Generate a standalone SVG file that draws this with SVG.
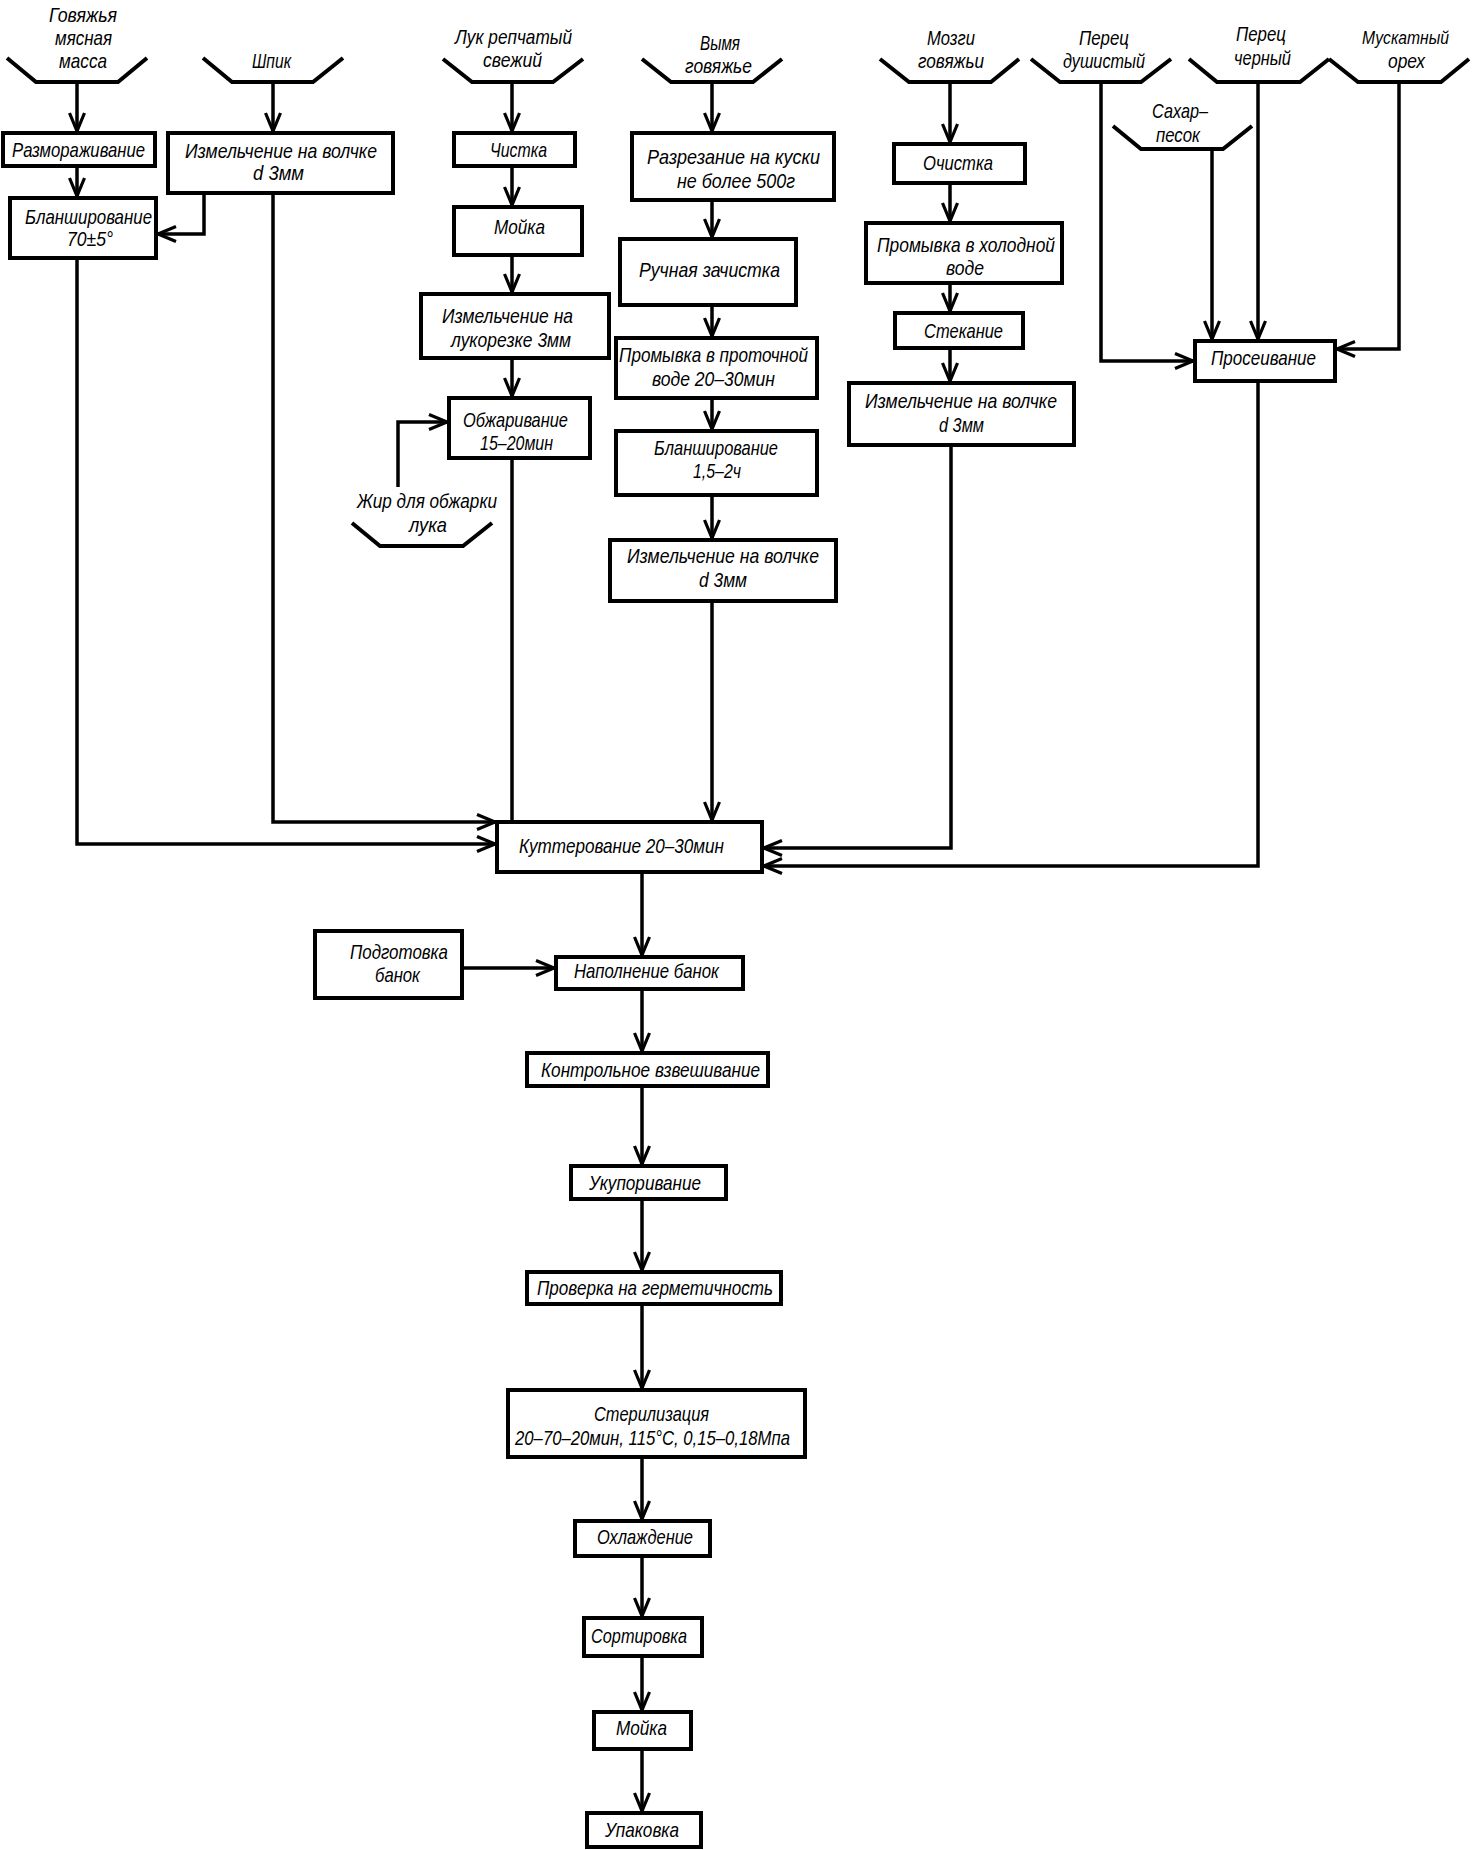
<svg xmlns="http://www.w3.org/2000/svg" width="1472" height="1850" viewBox="0 0 1472 1850">
<style>
.box{fill:#fff;stroke:#000;stroke-width:4}
.hop{fill:none;stroke:#000;stroke-width:4;stroke-linejoin:miter}
.ln{fill:none;stroke:#000;stroke-width:3.5;marker-end:url(#arr)}
.pl{fill:none;stroke:#000;stroke-width:3.5}
text{font-family:"Liberation Sans",Arial,sans-serif;font-style:italic;font-size:21px;fill:#000}
.sm{font-size:19px}
</style>
<defs>
<marker id="arr" markerUnits="userSpaceOnUse" markerWidth="30" markerHeight="30" viewBox="-25 -15 30 30" refX="0" refY="0" orient="auto" overflow="visible">
<path d="M-18,-7.5 L0,0 L-18,7.5" fill="none" stroke="#000" stroke-width="3.2"/>
</marker>
</defs>
<rect width="1472" height="1850" fill="#fff"/>

<g id="connectors">
<path class="ln" d="M77,82 V131"/>
<path class="ln" d="M77,166 V196"/>
<path class="ln" d="M273,82 V131"/>
<path class="ln" d="M204,193 V234 H158"/>
<path class="ln" d="M77,258 V844 H495"/>
<path class="ln" d="M273,193 V822 H495"/>
<path class="ln" d="M512,82 V131"/>
<path class="ln" d="M512,166 V205"/>
<path class="ln" d="M512,255 V292"/>
<path class="ln" d="M512,358 V396"/>
<path class="ln" d="M398,487 V422 H447"/>
<path class="pl" d="M512,458 V822"/>
<path class="ln" d="M712,82 V131"/>
<path class="ln" d="M712,200 V237"/>
<path class="ln" d="M712,305 V336"/>
<path class="ln" d="M712,398 V429"/>
<path class="ln" d="M712,495 V538"/>
<path class="ln" d="M712,601 V820"/>
<path class="ln" d="M950,82 V142"/>
<path class="ln" d="M950,183 V221"/>
<path class="ln" d="M950,283 V311"/>
<path class="ln" d="M950,348 V381"/>
<path class="ln" d="M951,445 V848 H764"/>
<path class="ln" d="M1101,82 V361 H1193"/>
<path class="ln" d="M1212,149 V339"/>
<path class="ln" d="M1258,82 V339"/>
<path class="ln" d="M1399,82 V349 H1337"/>
<path class="ln" d="M1258,381 V866 H764"/>
<path class="ln" d="M642,872 V955"/>
<path class="ln" d="M462,968 H554"/>
<path class="ln" d="M642,989 V1051"/>
<path class="ln" d="M642,1086 V1164"/>
<path class="ln" d="M642,1199 V1270"/>
<path class="ln" d="M642,1304 V1388"/>
<path class="ln" d="M642,1457 V1519"/>
<path class="ln" d="M642,1556 V1616"/>
<path class="ln" d="M642,1656 V1710"/>
<path class="ln" d="M642,1749 V1811"/>
</g>

<g id="in-govyazhya">
<polyline class="hop" points="7,58 36,82 118,82 147,58"/>
<text x="49" y="22" textLength="68" lengthAdjust="spacingAndGlyphs">Говяжья</text>
<text x="55" y="45" textLength="57" lengthAdjust="spacingAndGlyphs">мясная</text>
<text x="59" y="68" textLength="48" lengthAdjust="spacingAndGlyphs">масса</text>
</g>
<g id="in-shpik">
<polyline class="hop" points="203,58 232,82 313,82 343,58"/>
<text x="252" y="68" textLength="39" lengthAdjust="spacingAndGlyphs">Шпик</text>
</g>
<g id="in-luk">
<polyline class="hop" points="443,59 472,82 553,82 583,59"/>
<text x="455" y="44" textLength="117" lengthAdjust="spacingAndGlyphs">Лук репчатый</text>
<text x="483" y="67" textLength="59" lengthAdjust="spacingAndGlyphs">свежий</text>
</g>
<g id="in-vymya">
<polyline class="hop" points="642,59 671,82 753,82 782,59"/>
<text x="700" y="50" textLength="40" lengthAdjust="spacingAndGlyphs">Вымя</text>
<text x="685" y="73" textLength="67" lengthAdjust="spacingAndGlyphs">говяжье</text>
</g>
<g id="in-mozgi">
<polyline class="hop" points="880,59 909,82 991,82 1019,59"/>
<text x="927" y="45" textLength="48" lengthAdjust="spacingAndGlyphs">Мозги</text>
<text x="918" y="68" textLength="66" lengthAdjust="spacingAndGlyphs">говяжьи</text>
</g>
<g id="in-perec-dush">
<polyline class="hop" points="1031,59 1060,82 1141,82 1171,59"/>
<text x="1079" y="45" textLength="50" lengthAdjust="spacingAndGlyphs">Перец</text>
<text x="1063" y="68" textLength="82" lengthAdjust="spacingAndGlyphs">душистый</text>
</g>
<g id="in-perec-cher">
<polyline class="hop" points="1189,59 1217,82 1300,82 1329,59"/>
<text x="1236" y="41" textLength="50" lengthAdjust="spacingAndGlyphs">Перец</text>
<text x="1234" y="65" textLength="57" lengthAdjust="spacingAndGlyphs">черный</text>
</g>
<g id="in-muskat">
<polyline class="hop" points="1329,59 1358,82 1441,82 1469,59"/>
<text class="sm" x="1362" y="44" textLength="87" lengthAdjust="spacingAndGlyphs">Мускатный</text>
<text x="1388" y="68" textLength="37" lengthAdjust="spacingAndGlyphs">орех</text>
</g>
<g id="in-sahar">
<polyline class="hop" points="1113,126 1141,149 1223,149 1252,126"/>
<text x="1152" y="118" textLength="56" lengthAdjust="spacingAndGlyphs">Сахар–</text>
<text x="1156" y="142" textLength="44" lengthAdjust="spacingAndGlyphs">песок</text>
</g>
<g id="in-zhir">
<polyline class="hop" points="352,523 380,546 463,546 492,523"/>
<text x="357" y="508" textLength="140" lengthAdjust="spacingAndGlyphs">Жир для обжарки</text>
<text x="409" y="532" textLength="38" lengthAdjust="spacingAndGlyphs">лука</text>
</g>

<g id="razmorazhivanie">
<rect class="box" x="3" y="133" width="152" height="33"/>
<text x="12" y="157" textLength="133" lengthAdjust="spacingAndGlyphs">Размораживание</text>
</g>
<g id="izmelch-shpik">
<rect class="box" x="168" y="133" width="225" height="60"/>
<text x="185" y="158" textLength="192" lengthAdjust="spacingAndGlyphs">Измельчение на волчке</text>
<text x="253" y="180" textLength="51" lengthAdjust="spacingAndGlyphs">d 3мм</text>
</g>
<g id="blansh-1">
<rect class="box" x="10" y="198" width="146" height="60"/>
<text x="25" y="224" textLength="127" lengthAdjust="spacingAndGlyphs">Бланширование</text>
<text x="67" y="246" textLength="46" lengthAdjust="spacingAndGlyphs">70±5°</text>
</g>
<g id="chistka">
<rect class="box" x="454" y="133" width="121" height="33"/>
<text x="490" y="157" textLength="57" lengthAdjust="spacingAndGlyphs">Чистка</text>
</g>
<g id="moika-luk">
<rect class="box" x="454" y="207" width="128" height="48"/>
<text x="494" y="234" textLength="51" lengthAdjust="spacingAndGlyphs">Мойка</text>
</g>
<g id="izmelch-luk">
<rect class="box" x="421" y="294" width="188" height="64"/>
<text x="442" y="323" textLength="131" lengthAdjust="spacingAndGlyphs">Измельчение на</text>
<text x="451" y="347" textLength="120" lengthAdjust="spacingAndGlyphs">лукорезке 3мм</text>
</g>
<g id="obzharivanie">
<rect class="box" x="449" y="398" width="141" height="60"/>
<text x="463" y="427" textLength="105" lengthAdjust="spacingAndGlyphs">Обжаривание</text>
<text x="480" y="450" textLength="73" lengthAdjust="spacingAndGlyphs">15–20мин</text>
</g>
<g id="razrezanie">
<rect class="box" x="632" y="133" width="202" height="67"/>
<text x="647" y="164" textLength="173" lengthAdjust="spacingAndGlyphs">Разрезание на куски</text>
<text x="677" y="188" textLength="118" lengthAdjust="spacingAndGlyphs">не более 500г</text>
</g>
<g id="ruchnaya">
<rect class="box" x="620" y="239" width="176" height="66"/>
<text x="639" y="277" textLength="141" lengthAdjust="spacingAndGlyphs">Ручная зачистка</text>
</g>
<g id="promyvka-prot">
<rect class="box" x="616" y="338" width="201" height="60"/>
<text x="619" y="362" textLength="189" lengthAdjust="spacingAndGlyphs">Промывка в проточной</text>
<text x="652" y="386" textLength="123" lengthAdjust="spacingAndGlyphs">воде 20–30мин</text>
</g>
<g id="blansh-2">
<rect class="box" x="616" y="431" width="201" height="64"/>
<text x="654" y="455" textLength="124" lengthAdjust="spacingAndGlyphs">Бланширование</text>
<text x="693" y="478" textLength="48" lengthAdjust="spacingAndGlyphs">1,5–2ч</text>
</g>
<g id="izmelch-vymya">
<rect class="box" x="610" y="540" width="226" height="61"/>
<text x="627" y="563" textLength="192" lengthAdjust="spacingAndGlyphs">Измельчение на волчке</text>
<text x="699" y="587" textLength="48" lengthAdjust="spacingAndGlyphs">d 3мм</text>
</g>
<g id="ochistka">
<rect class="box" x="894" y="144" width="131" height="39"/>
<text x="923" y="170" textLength="70" lengthAdjust="spacingAndGlyphs">Очистка</text>
</g>
<g id="promyvka-hol">
<rect class="box" x="866" y="223" width="196" height="60"/>
<text x="877" y="252" textLength="178" lengthAdjust="spacingAndGlyphs">Промывка в холодной</text>
<text x="946" y="275" textLength="38" lengthAdjust="spacingAndGlyphs">воде</text>
</g>
<g id="stekanie">
<rect class="box" x="895" y="313" width="128" height="35"/>
<text x="924" y="338" textLength="79" lengthAdjust="spacingAndGlyphs">Стекание</text>
</g>
<g id="izmelch-mozgi">
<rect class="box" x="849" y="383" width="225" height="62"/>
<text x="865" y="408" textLength="192" lengthAdjust="spacingAndGlyphs">Измельчение на волчке</text>
<text x="939" y="432" textLength="45" lengthAdjust="spacingAndGlyphs">d 3мм</text>
</g>
<g id="proseivanie">
<rect class="box" x="1195" y="341" width="140" height="40"/>
<text x="1211" y="365" textLength="105" lengthAdjust="spacingAndGlyphs">Просеивание</text>
</g>
<g id="kutterovanie">
<rect class="box" x="497" y="822" width="265" height="50"/>
<text x="519" y="853" textLength="205" lengthAdjust="spacingAndGlyphs">Куттерование 20–30мин</text>
</g>
<g id="podgotovka">
<rect class="box" x="315" y="931" width="147" height="67"/>
<text x="350" y="959" textLength="98" lengthAdjust="spacingAndGlyphs">Подготовка</text>
<text x="375" y="982" textLength="45" lengthAdjust="spacingAndGlyphs">банок</text>
</g>
<g id="napolnenie">
<rect class="box" x="556" y="957" width="187" height="32"/>
<text x="574" y="978" textLength="145" lengthAdjust="spacingAndGlyphs">Наполнение банок</text>
</g>
<g id="kontrol">
<rect class="box" x="527" y="1053" width="241" height="33"/>
<text x="541" y="1077" textLength="219" lengthAdjust="spacingAndGlyphs">Контрольное взвешивание</text>
</g>
<g id="ukuporivanie">
<rect class="box" x="571" y="1166" width="155" height="33"/>
<text x="589" y="1190" textLength="112" lengthAdjust="spacingAndGlyphs">Укупоривание</text>
</g>
<g id="proverka">
<rect class="box" x="527" y="1272" width="254" height="32"/>
<text x="537" y="1295" textLength="236" lengthAdjust="spacingAndGlyphs">Проверка на герметичность</text>
</g>
<g id="sterilizaciya">
<rect class="box" x="508" y="1390" width="297" height="67"/>
<text x="594" y="1421" textLength="115" lengthAdjust="spacingAndGlyphs">Стерилизация</text>
<text x="515" y="1445" textLength="275" lengthAdjust="spacingAndGlyphs">20–70–20мин,  115°С,  0,15–0,18Мпа</text>
</g>
<g id="ohlazhdenie">
<rect class="box" x="575" y="1521" width="135" height="35"/>
<text x="597" y="1544" textLength="96" lengthAdjust="spacingAndGlyphs">Охлаждение</text>
</g>
<g id="sortirovka">
<rect class="box" x="584" y="1618" width="118" height="38"/>
<text x="591" y="1643" textLength="96" lengthAdjust="spacingAndGlyphs">Сортировка</text>
</g>
<g id="moika-2">
<rect class="box" x="594" y="1712" width="97" height="37"/>
<text x="616" y="1735" textLength="51" lengthAdjust="spacingAndGlyphs">Мойка</text>
</g>
<g id="upakovka">
<rect class="box" x="587" y="1813" width="114" height="34"/>
<text x="605" y="1837" textLength="74" lengthAdjust="spacingAndGlyphs">Упаковка</text>
</g>
</svg>
